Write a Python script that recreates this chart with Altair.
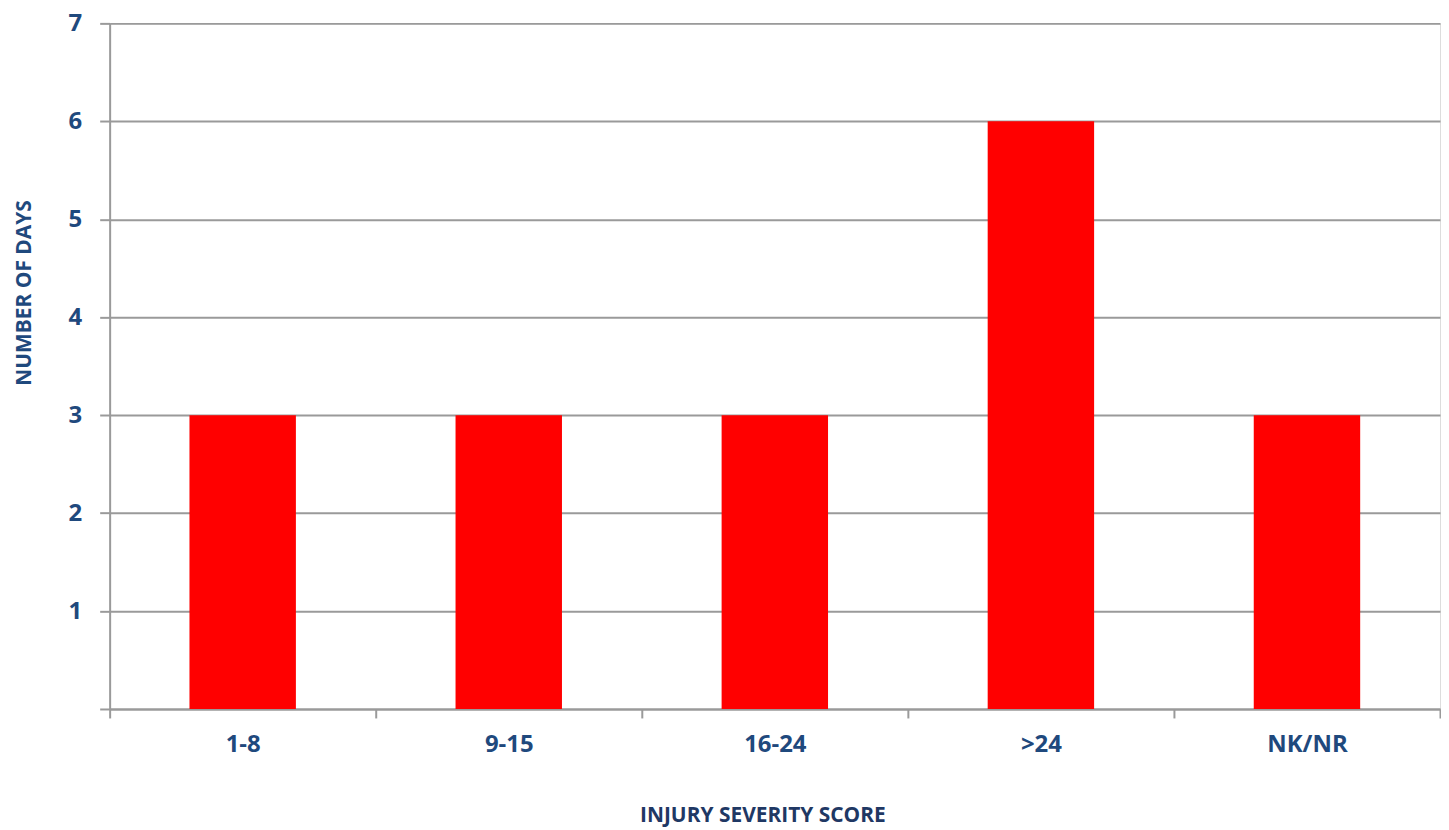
import altair as alt
import pandas as pd

categories = ["1-8", "9-15", "16-24", ">24", "NK/NR"]
days = [3, 3, 3, 6, 3]

df = pd.DataFrame({"category": categories, "days": days})

FONT = "Open Sans"
LABEL_COLOR = "#1F497D"
GRID = "#9a9a9a"

chart = (
    alt.Chart(df)
    .mark_bar(color="#FF0000", width=alt.RelativeBandSize(0.4))
    .encode(
        x=alt.X(
            "category:N",
            sort=categories,
            scale=alt.Scale(paddingInner=0, paddingOuter=0),
            axis=alt.Axis(
                title="INJURY SEVERITY SCORE",
                labelAngle=0,
                labelFont=FONT,
                labelFontSize=24,
                labelFontWeight="bold",
                labelColor=LABEL_COLOR,
                labelPadding=15,
                tickBand="extent",
                tickSize=9,
                tickWidth=2,
                tickColor=GRID,
                domainColor=GRID,
                domainWidth=2,
                titleFont=FONT,
                titleFontSize=21,
                titleFontWeight="bold",
                titleColor="#1F3864",
                titlePadding=48,
                titleX=655,
            ),
        ),
        y=alt.Y(
            "days:Q",
            scale=alt.Scale(domain=[0, 7], nice=False),
            axis=alt.Axis(
                title="NUMBER OF DAYS",
                values=[0, 1, 2, 3, 4, 5, 6, 7],
                labelExpr="datum.value == 0 ? '' : datum.label",
                labelFont=FONT,
                labelFontSize=24,
                labelFontWeight="bold",
                labelColor=LABEL_COLOR,
                labelPadding=18,
                tickSize=10,
                tickWidth=2,
                tickColor=GRID,
                domainColor=GRID,
                domainWidth=2,
                gridColor=GRID,
                gridWidth=2,
                titleFont=FONT,
                titleFontSize=21,
                titleFontWeight="bold",
                titleColor=LABEL_COLOR,
                titlePadding=34,
                titleY=270,
            ),
        ),
    )
    .properties(
        width=1335,
        height=688,
        padding={"left": 5, "top": 2, "right": 0, "bottom": 0},
    )
    .configure_view(stroke=None)
    .configure(background="white")
)

chart.save("out.html", embed_options={"renderer": "svg", "actions": False})
